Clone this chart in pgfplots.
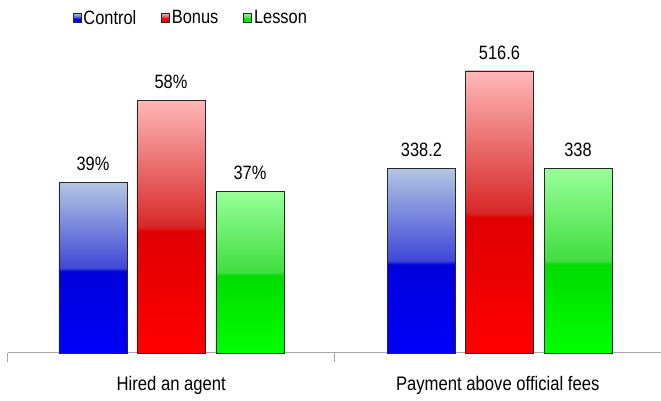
\documentclass[border=0pt]{standalone}
\usepackage{pgfplots}
\pgfplotsset{compat=1.18}
\usepackage{fontspec}
\setmainfont{Liberation Sans}[FakeStretch=0.85]
\definecolor{bB}{HTML}{0000F8}
\definecolor{bM}{HTML}{0000DC}
\definecolor{bT1}{HTML}{4048D8}
\definecolor{bT}{HTML}{B2C6E2}
\definecolor{rB}{HTML}{FF0000}
\definecolor{rM}{HTML}{E00000}
\definecolor{rT1}{HTML}{D82828}
\definecolor{rT}{HTML}{FFB8B8}
\definecolor{gB}{HTML}{00FF00}
\definecolor{gM}{HTML}{00DC00}
\definecolor{gT1}{HTML}{40DD40}
\definecolor{gT}{HTML}{98FF98}
\pgfdeclareverticalshading{blueshade}{100bp}{color(0bp)=(bB); color(25bp)=(bB); color(49bp)=(bM); color(50bp)=(bT1); color(75bp)=(bT); color(100bp)=(bT)}
\pgfdeclareverticalshading{redshade}{100bp}{color(0bp)=(rB); color(25bp)=(rB); color(49bp)=(rM); color(50bp)=(rT1); color(75bp)=(rT); color(100bp)=(rT)}
\pgfdeclareverticalshading{greenshade}{100bp}{color(0bp)=(gB); color(25bp)=(gB); color(49bp)=(gM); color(50bp)=(gT1); color(75bp)=(gT); color(100bp)=(gT)}
\newcommand{\valfont}{\fontsize{19.3}{22}\selectfont}
\newcommand{\catfont}{\fontsize{19.6}{23}\selectfont}
\pgfplotsset{
  barbase/.style={ybar, bar width=68pt, bar shift=0pt, draw=black!85, line width=0.8pt,
    nodes near coords, point meta=explicit symbolic,
    every node near coord/.append style={font=\valfont, text=black, yshift=8pt}},
  common/.style={at={(8pt,48pt)}, anchor=south west, scale only axis,
    width=653pt, height=323pt, xmin=0, xmax=2, ymin=0, clip=false},
}
\begin{document}
\begin{tikzpicture}
\path[use as bounding box] (0,0) rectangle (661pt,401pt);
\begin{axis}[common, ymax=74.05,
  axis x line*=bottom, axis y line=none,
  x axis line style={draw=gray!70, line width=1pt, -},
  xtick={0.5,1.5}, major tick length=0pt,
  xticklabels={Hired an agent, Payment above official fees},
  xticklabel style={font=\catfont, text=black, yshift=-20pt},
  minor xtick={0,1,2}, minor tick length=9pt, tick align=outside,
  minor tick style={draw=gray!70, line width=1pt},
  legend columns=3,
  legend style={at={(0.099,1.068)}, anchor=north west, draw=none, fill=none,
    font=\fontsize{19.3}{22}\selectfont, inner sep=0pt,
    /tikz/every even column/.append style={column sep=23pt}},
]
\addplot[barbase, shading=blueshade,
  legend image code/.code={\draw[shading=blueshade, draw=black!85, line width=0.6pt] (-2.5pt,-4.8pt) rectangle (5.5pt,4.8pt);}]
  coordinates {(0.2603,39) [39\%]};
\addlegendentry{Control}
\addplot[barbase, shading=redshade,
  legend image code/.code={\draw[shading=redshade, draw=black!85, line width=0.6pt] (-2.5pt,-4.8pt) rectangle (5.5pt,4.8pt);}]
  coordinates {(0.4992,58) [58\%]};
\addlegendentry{Bonus}
\addplot[barbase, shading=greenshade,
  legend image code/.code={\draw[shading=greenshade, draw=black!85, line width=0.6pt] (-2.5pt,-4.8pt) rectangle (5.5pt,4.8pt);}]
  coordinates {(0.741,37) [37\%]};
\addlegendentry{Lesson}
\end{axis}
\begin{axis}[common, ymax=591.7, hide axis]
\addplot[barbase, shading=blueshade] coordinates {(1.2665,338.2) [338.2]};
\addplot[barbase, shading=redshade] coordinates {(1.5054,516.6) [516.6]};
\addplot[barbase, shading=greenshade] coordinates {(1.7458,338) [338]};
\end{axis}
\end{tikzpicture}
\end{document}
